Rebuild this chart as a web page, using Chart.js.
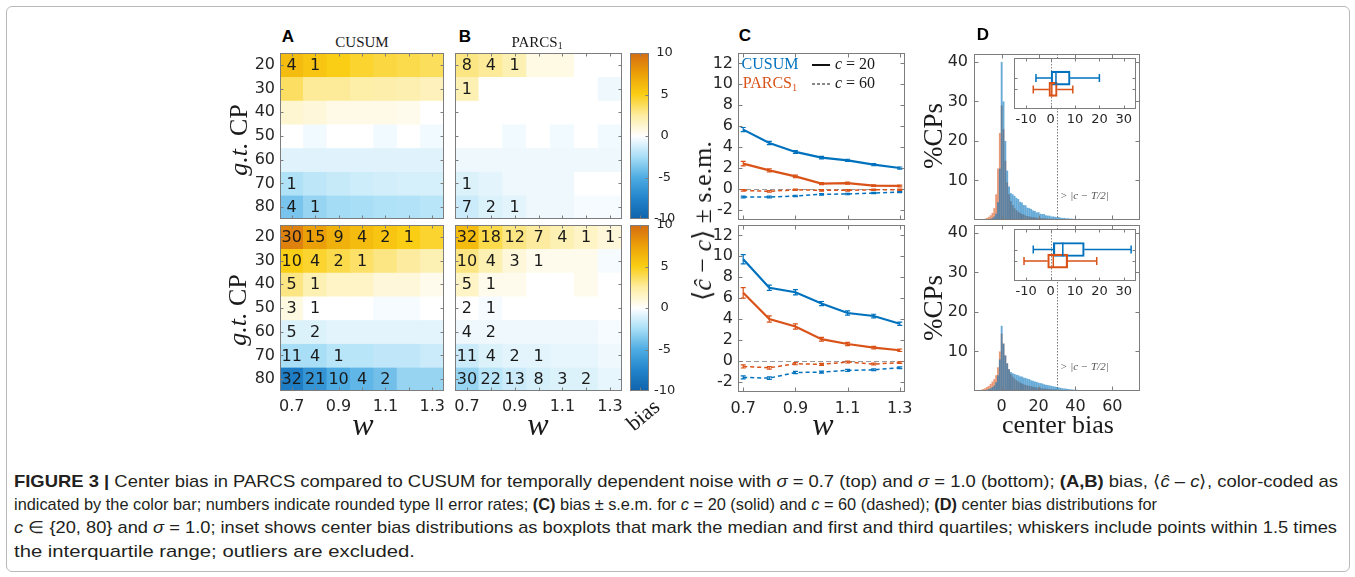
<!DOCTYPE html>
<html>
<head>
<meta charset="utf-8">
<title>Center bias in PARCS compared to CUSUM</title>
<script src="https://cdn.jsdelivr.net/npm/chart.js@4.4.1/dist/chart.umd.min.js"></script>
<style>
  html, body { margin: 0; padding: 0; background: #fff; }
  body { width: 1355px; height: 577px; position: relative; overflow: hidden; color: #262626; font-family: "DejaVu Sans", sans-serif; }
  .border { position: absolute; left: 6px; top: 6px; width: 1342px; height: 564px; border: 1px solid #b9b9b9; border-radius: 6px; }
  canvas { position: absolute; }
  .lbl { position: absolute; white-space: nowrap; line-height: 1; }
  .letter { font-family: "Liberation Sans", Arial, sans-serif; font-weight: bold; font-size: 17px; color: #000; }
  .cap { position: absolute; left: 14px; white-space: nowrap; line-height: 20px; font-size: 17px; color: #231f20;
         font-family: "Liberation Sans Narrow", "Liberation Sans", Arial, sans-serif; transform-origin: 0 50%; }
  .cap b { font-weight: bold; }
  sub { font-size: 65%; vertical-align: -0.25em; line-height: 0; }
</style>
</head>
<body>
<div class="border"></div>
<script>
// ---------- data ----------
const wLabels = ['0.7', '0.8', '0.9', '1.0', '1.1', '1.2', '1.3'];
const wValues = [0.7, 0.8, 0.9, 1.0, 1.1, 1.2, 1.3];
const cpRows = [20, 30, 40, 50, 60, 70, 80];
const biasTicks = [10, 5, 0, -5, -10];

// mean bias <c^ - c>, rows = g.t. CP 20..80, columns = w 0.7..1.3
const biasCusumS07 = [
  [6.0, 5.5, 5.0, 4.5, 4.2, 4.0, 3.7],
  [3.6, 2.6, 2.6, 2.3, 2.2, 2.1, 1.8],
  [1.2, 1.0, 0.6, 0.6, 0.6, 0.5, 0.0],
  [0.0, -0.4, 0.0, 0.0, -0.4, 0.0, -0.4],
  [-0.9, -0.9, -0.9, -0.9, -0.9, -0.9, -0.9],
  [-2.3, -1.9, -1.6, -1.4, -1.3, -1.2, -1.2],
  [-3.8, -3.0, -2.6, -2.5, -2.3, -2.2, -2.0]
];
const biasParcsS07 = [
  [3.0, 2.6, 2.0, 0.7, 0.7, 0.0, 0.0],
  [2.0, 0.0, 0.0, 0.0, 0.0, 0.0, -0.5],
  [0.0, 0.0, 0.0, 0.0, 0.0, 0.0, 0.0],
  [0.0, 0.0, -0.4, 0.0, -0.4, 0.0, -0.4],
  [-0.5, -0.5, -0.5, -0.5, -0.5, -0.5, -0.5],
  [-1.0, -0.8, -0.5, -0.5, -0.5, 0.0, 0.0],
  [-1.5, -1.0, -0.8, -0.5, -0.5, -0.3, -0.3]
];
const biasCusumS10 = [
  [9.0, 7.5, 6.6, 6.0, 5.5, 5.0, 4.5],
  [5.0, 4.5, 4.0, 3.5, 3.0, 2.5, 2.0],
  [3.0, 2.0, 1.5, 1.5, 1.0, 1.0, 0.5],
  [0.8, 0.0, 0.0, 0.0, -0.3, -0.3, 0.0],
  [-1.0, -1.0, -0.8, -0.8, -0.8, -0.8, -0.8],
  [-2.5, -2.5, -2.0, -2.0, -1.8, -1.8, -1.5],
  [-8.0, -6.5, -5.0, -4.5, -4.0, -3.0, -3.0]
];
const biasParcsS10 = [
  [6.0, 4.0, 3.0, 2.5, 2.0, 1.5, 1.0],
  [3.0, 2.0, 1.0, 0.5, 0.5, 0.5, -0.3],
  [1.5, 0.5, 0.5, 0.0, 0.0, 0.5, 0.0],
  [0.0, -0.3, 0.0, 0.0, 0.0, 0.0, 0.0],
  [-0.5, -0.5, -0.5, -0.5, -0.5, -0.5, -0.3],
  [-1.5, -1.0, -0.8, -0.8, -0.7, -0.7, -0.5],
  [-3.0, -2.0, -1.5, -1.2, -1.0, -1.0, -0.7]
];

// rounded type II error rates (%), 0 is left blank
const errCusumS07 = [
  [4, 1, 0, 0, 0, 0, 0], [0, 0, 0, 0, 0, 0, 0], [0, 0, 0, 0, 0, 0, 0], [0, 0, 0, 0, 0, 0, 0],
  [0, 0, 0, 0, 0, 0, 0], [1, 0, 0, 0, 0, 0, 0], [4, 1, 0, 0, 0, 0, 0]
];
const errParcsS07 = [
  [8, 4, 1, 0, 0, 0, 0], [1, 0, 0, 0, 0, 0, 0], [0, 0, 0, 0, 0, 0, 0], [0, 0, 0, 0, 0, 0, 0],
  [0, 0, 0, 0, 0, 0, 0], [1, 0, 0, 0, 0, 0, 0], [7, 2, 1, 0, 0, 0, 0]
];
const errCusumS10 = [
  [30, 15, 9, 4, 2, 1, 0], [10, 4, 2, 1, 0, 0, 0], [5, 1, 0, 0, 0, 0, 0], [3, 1, 0, 0, 0, 0, 0],
  [5, 2, 0, 0, 0, 0, 0], [11, 4, 1, 0, 0, 0, 0], [32, 21, 10, 4, 2, 0, 0]
];
const errParcsS10 = [
  [32, 18, 12, 7, 4, 1, 1], [10, 4, 3, 1, 0, 0, 0], [5, 1, 0, 0, 0, 0, 0], [2, 1, 0, 0, 0, 0, 0],
  [4, 2, 0, 0, 0, 0, 0], [11, 4, 2, 1, 0, 0, 0], [30, 22, 13, 8, 3, 2, 0]
];

// panel C: bias and s.e.m. against w, for c = 20 and c = 60
const c20CusumS07 = [5.66, 4.38, 3.52, 2.98, 2.72, 2.30, 1.98];
const c20CusumS07Sem = [0.20, 0.15, 0.13, 0.12, 0.10, 0.10, 0.10];
const c20ParcsS07 = [2.40, 1.76, 1.18, 0.48, 0.54, 0.29, 0.26];
const c20ParcsS07Sem = [0.22, 0.15, 0.12, 0.10, 0.10, 0.08, 0.08];
const c60CusumS07 = [-0.80, -0.80, -0.70, -0.54, -0.51, -0.42, -0.32];
const c60CusumS07Sem = [0.08, 0.08, 0.07, 0.07, 0.07, 0.06, 0.06];
const c60ParcsS07 = [-0.16, -0.26, -0.10, -0.16, -0.16, -0.10, -0.10];
const c60ParcsS07Sem = [0.08, 0.08, 0.07, 0.07, 0.07, 0.06, 0.06];

const c20CusumS10 = [9.72, 6.98, 6.56, 5.47, 4.57, 4.28, 3.54];
const c20CusumS10Sem = [0.45, 0.25, 0.25, 0.20, 0.20, 0.17, 0.15];
const c20ParcsS10 = [6.50, 3.99, 3.28, 2.06, 1.60, 1.25, 1.00];
const c20ParcsS10Sem = [0.50, 0.30, 0.25, 0.18, 0.15, 0.13, 0.12];
const c60CusumS10 = [-1.60, -1.67, -1.13, -1.10, -0.93, -0.87, -0.68];
const c60CusumS10Sem = [0.15, 0.12, 0.10, 0.10, 0.09, 0.08, 0.08];
const c60ParcsS10 = [-0.55, -0.68, -0.29, -0.35, -0.13, -0.32, -0.19];
const c60ParcsS10Sem = [0.15, 0.12, 0.10, 0.10, 0.09, 0.08, 0.08];

// panel D: center bias histograms (% of CPs), unit bins
const histBins = [
  -12, -11, -10, -9, -8, -7, -6, -5, -4, -3,
  -2, -1, 0, 1, 2, 3, 4, 5, 6, 7,
  8, 9, 10, 11, 12, 13, 14, 15, 16, 17,
  18, 19, 20, 21, 22, 23, 24, 25, 26, 27,
  28, 29, 30, 31, 32, 33, 34, 35, 36, 37,
  38, 39, 40, 41, 42, 43, 44, 45, 46, 47,
  48, 49, 50, 51, 52, 53, 54, 55, 56, 57
];
const histCusumS07 = [
  0, 0, 0, 0, 0.1, 0.2, 0.3, 0.5, 0.9, 1.6,
  4.5, 13, 40, 30, 20, 12.5, 8.5, 6.8, 6.5, 6.1,
  5.6, 5.3, 4.6, 4.4, 3.8, 3.7, 3.1, 3.0, 2.8, 2.4,
  2.3, 1.9, 2.0, 1.6, 1.5, 1.5, 1.2, 1.1, 1.1, 0.9,
  0.9, 0.8, 0.7, 0.75, 0.6, 0.5, 0.55, 0.4, 0.45, 0.35,
  0.35, 0.3, 0.3, 0.25, 0.3, 0.2, 0.2, 0.15, 0.2, 0.15,
  0.1, 0.15, 0.1, 0.1, 0.05, 0.1, 0.05, 0.05, 0, 0.05
];
const histParcsS07 = [
  0, 0, 0.1, 0.3, 0.5, 0.8, 1.2, 1.8, 3.0, 6.5,
  13, 22, 29, 23, 15, 9.5, 6.5, 4.8, 3.8, 3.0,
  2.5, 2.1, 1.8, 1.5, 1.4, 1.1, 1.0, 0.9, 0.8, 0.7,
  0.65, 0.6, 0.5, 0.5, 0.45, 0.4, 0.4, 0.35, 0.3, 0.3,
  0.3, 0.25, 0.25, 0.2, 0.2, 0.2, 0.15, 0.15, 0.15, 0.1,
  0.1, 0.1, 0.1, 0.1, 0.1, 0.05, 0.05, 0.05, 0.05, 0.05,
  0.05, 0, 0.05, 0, 0, 0, 0, 0, 0, 0
];
const histCusumS10 = [
  0, 0, 0.1, 0.2, 0.3, 0.5, 0.7, 1.0, 1.4, 2.2,
  4.0, 8.0, 16.5, 12, 9.0, 7.0, 5.5, 4.8, 4.5, 4.3,
  4.1, 4.0, 3.7, 3.7, 3.4, 3.3, 3.1, 3.0, 2.7, 2.6,
  2.4, 2.3, 2.1, 2.0, 1.9, 1.7, 1.6, 1.5, 1.4, 1.3,
  1.2, 1.1, 1.0, 0.9, 0.8, 0.7, 0.65, 0.6, 0.5, 0.45,
  0.4, 0.35, 0.3, 0.3, 0.25, 0.25, 0.2, 0.2, 0.15, 0.15,
  0.1, 0.1, 0.1, 0.1, 0.05, 0.05, 0.05, 0.05, 0.05, 0
];
const histParcsS10 = [
  0.2, 0.3, 0.5, 0.7, 1.0, 1.3, 1.8, 2.4, 3.0, 4.0,
  6.0, 10, 14.5, 12, 9.0, 7.0, 5.5, 4.3, 3.6, 3.1,
  2.7, 2.4, 2.1, 1.9, 1.7, 1.5, 1.4, 1.3, 1.2, 1.1,
  1.0, 0.9, 0.85, 0.8, 0.7, 0.65, 0.6, 0.55, 0.5, 0.45,
  0.4, 0.4, 0.35, 0.3, 0.3, 0.25, 0.25, 0.2, 0.2, 0.2,
  0.15, 0.15, 0.15, 0.1, 0.1, 0.1, 0.1, 0.1, 0.05, 0.05,
  0.05, 0.05, 0.05, 0.05, 0, 0, 0, 0, 0, 0
];
const halfSpan = 30;   // dotted marker at |c - T/2|

// inset boxplots: [lower whisker, Q1, median, Q3, upper whisker]
const boxCusumS07 = [-6.0, 0.2, 2.2, 8.0, 20.0];
const boxParcsS07 = [-7.1, -0.7, 0.5, 2.7, 9.1];
const boxCusumS10 = [-7.1, 1.1, 5.0, 13.8, 33.0];
const boxParcsS10 = [-10.9, -1.2, 1.1, 7.0, 18.9];

// ---------- styles ----------
const BLUE = '#0072bd';
const ORANGE = '#d95319';
const FRAME = '#7d7d7d';
const cmapStops = [
  [-10, [15, 98, 172]], [-7.5, [34, 132, 203]], [-5, [78, 172, 226]], [-2.5, [168, 222, 246]],
  [0, [255, 255, 255]], [2.5, [253, 236, 160]], [5, [250, 206, 20]], [7.5, [236, 160, 8]], [10, [212, 108, 18]]
];

function biasColor(v) {
  v = Math.max(-10, Math.min(10, v));
  for (let i = 1; i < cmapStops.length; i++) {
    const [v1, c1] = cmapStops[i];
    if (v <= v1) {
      const [v0, c0] = cmapStops[i - 1];
      const t = (v - v0) / (v1 - v0);
      return 'rgb(' + c0.map((c, k) => Math.round(c + t * (c1[k] - c))).join(',') + ')';
    }
  }
}

Chart.defaults.animation = false;
Chart.defaults.font.family = '"DejaVu Sans", sans-serif';
Chart.defaults.color = '#262626';
Chart.defaults.plugins.legend.display = false;
Chart.defaults.plugins.tooltip.enabled = false;

// ---------- plugins ----------
// axes box with short inward ticks, MATLAB style
const axisFrame = {
  id: 'axisFrame',
  beforeDatasetsDraw(chart, args, o) {
    if (!o.fill) return;
    const a = chart.chartArea, ctx = chart.ctx;
    ctx.save();
    ctx.fillStyle = o.fill;
    ctx.fillRect(a.left, a.top, a.right - a.left, a.bottom - a.top);
    ctx.restore();
  },
  afterDatasetsDraw(chart, args, o) {
    const {ctx, chartArea: a, scales} = chart;
    const L = Math.round(a.left) + 0.5, R = Math.round(a.right) - 0.5;
    const T = Math.round(a.top) + 0.5, B = Math.round(a.bottom) - 0.5;
    const len = o.tickLength || 0;
    ctx.save();
    ctx.strokeStyle = o.color || FRAME;
    ctx.lineWidth = 1;
    ctx.beginPath();
    if (len && scales.x) {
      scales.x.ticks.forEach(t => {
        const p = Math.round(scales.x.getPixelForValue(t.value)) + 0.5;
        if (p <= L + 1 || p >= R - 1) return;
        ctx.moveTo(p, B); ctx.lineTo(p, B - len);
        ctx.moveTo(p, T); ctx.lineTo(p, T + len);
      });
    }
    if (len && scales.y) {
      const sides = o.ySides || ['left', 'right'];
      scales.y.ticks.forEach(t => {
        const p = Math.round(scales.y.getPixelForValue(t.value)) + 0.5;
        if (p <= T + 1 || p >= B - 1) return;
        if (sides.includes('left')) { ctx.moveTo(L, p); ctx.lineTo(L + len, p); }
        if (sides.includes('right')) { ctx.moveTo(R, p); ctx.lineTo(R - len, p); }
      });
    }
    ctx.stroke();
    ctx.strokeRect(L, T, R - L, B - T);
    ctx.restore();
  }
};

// error rate printed in each heatmap cell
const cellText = {
  id: 'cellText',
  afterDatasetsDraw(chart) {
    const ctx = chart.ctx;
    ctx.save();
    ctx.font = '16px "DejaVu Sans", sans-serif';
    ctx.fillStyle = '#1a1a1a';
    ctx.textAlign = 'center';
    ctx.textBaseline = 'middle';
    chart.data.datasets.forEach((ds, i) => {
      if (!ds.errs) return;
      chart.getDatasetMeta(i).data.forEach((bar, j) => {
        const n = ds.errs[j];
        if (n > 0) ctx.fillText(String(n), bar.x, (bar.y + bar.base) / 2 + 1);
      });
    });
    ctx.restore();
  }
};

// +- s.e.m. bars on line series
const semBars = {
  id: 'semBars',
  afterDatasetsDraw(chart) {
    const {ctx, scales: {y}} = chart;
    chart.data.datasets.forEach((ds, i) => {
      if (!ds.sem) return;
      ctx.save();
      ctx.strokeStyle = ds.borderColor;
      ctx.lineWidth = 1.2;
      ctx.beginPath();
      chart.getDatasetMeta(i).data.forEach((pt, j) => {
        const v = ds.data[j].y, e = ds.sem[j];
        const y1 = y.getPixelForValue(v - e), y2 = y.getPixelForValue(v + e);
        ctx.moveTo(pt.x, y1); ctx.lineTo(pt.x, y2);
        ctx.moveTo(pt.x - 2.5, y1); ctx.lineTo(pt.x + 2.5, y1);
        ctx.moveTo(pt.x - 2.5, y2); ctx.lineTo(pt.x + 2.5, y2);
      });
      ctx.stroke();
      ctx.restore();
    });
  }
};

// dashed / dotted reference lines, with an optional note
const refLines = {
  id: 'refLines',
  beforeDatasetsDraw(chart, args, o) {
    const {ctx, chartArea: a, scales: {x, y}} = chart;
    ctx.save();
    ctx.strokeStyle = o.color || '#888';
    ctx.lineWidth = 1;
    ctx.setLineDash(o.dash || [2, 2]);
    ctx.beginPath();
    (o.x || []).forEach(v => {
      const p = Math.round(x.getPixelForValue(v)) + 0.5;
      ctx.moveTo(p, a.top); ctx.lineTo(p, a.bottom);
    });
    (o.y || []).forEach(v => {
      const p = Math.round(y.getPixelForValue(v)) + 0.5;
      ctx.moveTo(a.left, p); ctx.lineTo(a.right, p);
    });
    ctx.stroke();
    ctx.setLineDash([]);
    if (o.note) {
      ctx.font = 'italic 11px "Liberation Serif", serif';
      ctx.fillStyle = '#555';
      ctx.textBaseline = 'middle';
      ctx.fillText(o.note.text, x.getPixelForValue(o.note.x) + 3, y.getPixelForValue(o.note.y));
    }
    ctx.restore();
  }
};

// whiskers, caps and median for the inset boxes
const whiskers = {
  id: 'whiskers',
  afterDatasetsDraw(chart) {
    const {ctx, scales: {x, y}} = chart;
    chart.data.datasets.forEach(ds => {
      if (!ds.stats) return;
      ds.stats.forEach((s, k) => {
        const [lo, q1, med, q3, hi] = s.map(v => x.getPixelForValue(v));
        const yc = y.getPixelForValue(ds.data[k].y), half = ds.barThickness / 2, cap = 4;
        ctx.save();
        ctx.strokeStyle = ds.borderColor[k];
        ctx.lineWidth = 1.5;
        ctx.beginPath();
        ctx.moveTo(lo, yc); ctx.lineTo(q1, yc);
        ctx.moveTo(q3, yc); ctx.lineTo(hi, yc);
        ctx.moveTo(lo, yc - cap); ctx.lineTo(lo, yc + cap);
        ctx.moveTo(hi, yc - cap); ctx.lineTo(hi, yc + cap);
        ctx.moveTo(med, yc - half); ctx.lineTo(med, yc + half);
        ctx.stroke();
        ctx.restore();
      });
    });
  }
};

// ---------- layout helpers ----------
function mount(plot, pad) {
  const c = document.createElement('canvas');
  const w = plot.r - plot.l + pad.l + pad.r, h = plot.b - plot.t + pad.t + pad.b;
  c.width = w; c.height = h;
  c.style.left = (plot.l - pad.l) + 'px';
  c.style.top = (plot.t - pad.t) + 'px';
  c.style.width = w + 'px';
  c.style.height = h + 'px';
  document.body.appendChild(c);
  return c;
}
const fitW = w => s => { s.width = w; s.paddingTop = 0; s.paddingBottom = 0; };
const fitH = h => s => { s.height = h; s.paddingLeft = 0; s.paddingRight = 0; };
const fixTicks = list => s => { s.ticks = list.map(v => ({value: v})); };
const noGrid = {display: false, drawTicks: false};
const tickFont = size => ({autoSkip: false, maxRotation: 0, minRotation: 0, font: {size}});

function heatmap(plot, bias, errs, showY, showX) {
  const pad = {l: showY ? 45 : 2, t: 2, r: 4, b: showX ? 28 : 2};
  return new Chart(mount(plot, pad), {
    type: 'bar',
    data: {
      labels: wLabels,
      datasets: cpRows.map((cp, r) => ({
        data: wLabels.map(() => [cp - 5, cp + 5]),
        backgroundColor: bias[r].map(biasColor),
        errs: errs[r],
        grouped: false, barPercentage: 1, categoryPercentage: 1, borderWidth: 0
      }))
    },
    options: {
      responsive: false,
      layout: {padding: {left: showY ? 0 : pad.l, top: pad.t, right: pad.r, bottom: showX ? 0 : pad.b}},
      scales: {
        x: {
          display: showX, grid: noGrid, border: {display: false},
          ticks: {...tickFont(16), padding: 6, callback: (v, i) => (i % 2 ? '' : wLabels[i])},
          afterFit: showX ? fitH(pad.b) : undefined
        },
        y: {
          display: showY, reverse: true, min: 15, max: 85, grid: noGrid, border: {display: false},
          ticks: {...tickFont(16), padding: 5},
          afterBuildTicks: fixTicks(cpRows),
          afterFit: showY ? fitW(pad.l) : undefined
        }
      },
      plugins: {axisFrame: {tickLength: 3}}
    },
    plugins: [axisFrame, cellText]
  });
}

function colorbar(plot) {
  const pad = {l: 2, t: 9, r: 36, b: 9};
  return new Chart(mount(plot, pad), {
    type: 'bar',
    data: {
      labels: [''],
      datasets: [{
        data: [[-10, 10]],
        barPercentage: 1, categoryPercentage: 1, borderWidth: 0,
        backgroundColor: ctx => {
          const {chartArea: a, scales: {y}} = ctx.chart;
          if (!a) return null;
          const g = ctx.chart.ctx.createLinearGradient(0, a.bottom, 0, a.top);
          cmapStops.forEach(([v, c]) => g.addColorStop((a.bottom - y.getPixelForValue(v)) / (a.bottom - a.top), 'rgb(' + c.join(',') + ')'));
          return g;
        }
      }]
    },
    options: {
      responsive: false,
      layout: {padding: {left: pad.l, top: pad.t, right: 0, bottom: pad.b}},
      scales: {
        x: {display: false},
        y: {
          position: 'right', min: -10, max: 10, grid: noGrid, border: {display: false},
          ticks: {...tickFont(13), padding: 5, crossAlign: 'center'},
          afterBuildTicks: fixTicks(biasTicks),
          afterFit: fitW(pad.r)
        }
      },
      plugins: {axisFrame: {tickLength: 3, ySides: ['right']}}
    },
    plugins: [axisFrame]
  });
}

function biasLines(plot, series, showX) {
  const pad = {l: 40, t: 8, r: 14, b: showX ? 28 : 2};
  return new Chart(mount(plot, pad), {
    type: 'line',
    data: {
      datasets: series.map(s => ({
        data: wValues.map((w, j) => ({x: w, y: s.mean[j]})),
        sem: s.sem,
        borderColor: s.color,
        borderWidth: s.dashed ? 1.5 : 2.2,
        borderDash: s.dashed ? [4, 3] : [],
        pointRadius: 0, tension: 0
      }))
    },
    options: {
      responsive: false,
      layout: {padding: {left: 0, top: pad.t, right: pad.r, bottom: showX ? 0 : pad.b}},
      scales: {
        x: {
          type: 'linear', display: showX, min: 0.68, max: 1.32, grid: noGrid, border: {display: false},
          ticks: {...tickFont(16), padding: 7, callback: v => v.toFixed(1)},
          afterBuildTicks: fixTicks([0.7, 0.9, 1.1, 1.3]),
          afterFit: showX ? fitH(pad.b) : undefined
        },
        y: {
          min: -3, max: 13, grid: noGrid, border: {display: false},
          ticks: {...tickFont(16), padding: 5},
          afterBuildTicks: fixTicks([-2, 0, 2, 4, 6, 8, 10, 12]),
          afterFit: fitW(pad.l)
        }
      },
      plugins: {
        axisFrame: {tickLength: 4},
        refLines: {y: [0], color: '#9a9a9a', dash: [5, 3]}
      }
    },
    plugins: [axisFrame, refLines, semBars]
  });
}

function histogram(plot, cusum, parcs, showX) {
  const pad = {l: 40, t: 8, r: 4, b: showX ? 28 : 2};
  const bars = (vals, color) => ({
    data: histBins.map((b, i) => ({x: b, y: vals[i]})),
    backgroundColor: color,
    grouped: false, barPercentage: 1, categoryPercentage: 1, borderWidth: 0, inflateAmount: 0
  });
  return new Chart(mount(plot, pad), {
    type: 'bar',
    data: {datasets: [bars(cusum, 'rgba(0,114,189,0.6)'), bars(parcs, 'rgba(217,83,25,0.6)')]},
    options: {
      responsive: false,
      layout: {padding: {left: 0, top: pad.t, right: pad.r, bottom: showX ? 0 : pad.b}},
      scales: {
        x: {
          type: 'linear', display: showX, offset: false, min: -15, max: 75, grid: noGrid, border: {display: false},
          ticks: {...tickFont(16), padding: 6},
          afterBuildTicks: fixTicks([0, 20, 40, 60]),
          afterFit: showX ? fitH(pad.b) : undefined
        },
        y: {
          min: 0, max: 42, grid: noGrid, border: {display: false},
          ticks: {...tickFont(16), padding: 6},
          afterBuildTicks: fixTicks([10, 20, 30, 40]),
          afterFit: fitW(pad.l)
        }
      },
      plugins: {
        axisFrame: {tickLength: 4},
        refLines: {x: [halfSpan], color: '#777', dash: [1.5, 1.5], note: {text: '> |c \u2212 T/2|', x: halfSpan, y: 6}}
      }
    },
    plugins: [axisFrame, refLines]
  });
}

function inset(plot, cusumStats, parcsStats) {
  const pad = {l: 4, t: 2, r: 4, b: 18};
  return new Chart(mount(plot, pad), {
    type: 'bar',
    data: {
      datasets: [{
        indexAxis: 'y',
        data: [{y: 1, x: [cusumStats[1], cusumStats[3]]}, {y: 2, x: [parcsStats[1], parcsStats[3]]}],
        stats: [cusumStats, parcsStats],
        borderColor: [BLUE, ORANGE],
        backgroundColor: 'rgba(0,0,0,0)',
        borderWidth: 1.5, borderSkipped: false, barThickness: 14
      }]
    },
    options: {
      responsive: false,
      indexAxis: 'y',
      layout: {padding: {left: pad.l, top: pad.t, right: pad.r, bottom: 0}},
      scales: {
        x: {
          type: 'linear', min: -15, max: 35, grid: noGrid, border: {display: false},
          ticks: {...tickFont(13), padding: 3},
          afterBuildTicks: fixTicks([-10, 0, 10, 20, 30]),
          afterFit: fitH(pad.b)
        },
        y: {
          type: 'linear', display: false, reverse: true, min: 0.35, max: 2.6,
          afterBuildTicks: fixTicks([1, 2])
        }
      },
      plugins: {
        axisFrame: {tickLength: 3, fill: '#fff'},
        refLines: {x: [0], color: '#888', dash: [1.5, 1.5]}
      }
    },
    plugins: [axisFrame, refLines, whiskers]
  });
}

// ---------- panels ----------
heatmap({l: 280, t: 53, r: 444, b: 219}, biasCusumS07, errCusumS07, true, false);
heatmap({l: 455, t: 53, r: 622, b: 219}, biasParcsS07, errParcsS07, false, false);
colorbar({l: 630, t: 53, r: 649, b: 219});
heatmap({l: 280, t: 225, r: 444, b: 391}, biasCusumS10, errCusumS10, true, true);
heatmap({l: 455, t: 225, r: 622, b: 391}, biasParcsS10, errParcsS10, false, true);
colorbar({l: 630, t: 225, r: 649, b: 391});

biasLines({l: 738, t: 53, r: 905, b: 220}, [
  {mean: c60CusumS07, sem: c60CusumS07Sem, color: BLUE, dashed: true},
  {mean: c60ParcsS07, sem: c60ParcsS07Sem, color: ORANGE, dashed: true},
  {mean: c20CusumS07, sem: c20CusumS07Sem, color: BLUE},
  {mean: c20ParcsS07, sem: c20ParcsS07Sem, color: ORANGE}
], false);
biasLines({l: 738, t: 225, r: 905, b: 392}, [
  {mean: c60CusumS10, sem: c60CusumS10Sem, color: BLUE, dashed: true},
  {mean: c60ParcsS10, sem: c60ParcsS10Sem, color: ORANGE, dashed: true},
  {mean: c20CusumS10, sem: c20CusumS10Sem, color: BLUE},
  {mean: c20ParcsS10, sem: c20ParcsS10Sem, color: ORANGE}
], true);

histogram({l: 974, t: 54, r: 1140, b: 220}, histCusumS07, histParcsS07, false);
histogram({l: 974, t: 225, r: 1140, b: 391}, histCusumS10, histParcsS10, true);
inset({l: 1014, t: 58, r: 1136, b: 109}, boxCusumS07, boxParcsS07);
inset({l: 1014, t: 229, r: 1136, b: 281}, boxCusumS10, boxParcsS10);

// ---------- text ----------
function label(html, cx, cy, css, rot) {
  const d = document.createElement('div');
  d.className = 'lbl';
  d.innerHTML = html;
  d.style.cssText += css || '';
  d.style.left = cx + 'px';
  d.style.top = cy + 'px';
  d.style.transform = 'translate(-50%,-50%) rotate(' + (rot || 0) + 'deg)';
  document.body.appendChild(d);
  return d;
}
const serif = 'font-family:"Liberation Serif","DejaVu Serif",serif;color:#1a1a1a;';

label('A', 288, 36).className += ' letter';
label('B', 465, 36).className += ' letter';
label('C', 745, 35).className += ' letter';
label('D', 983, 34).className += ' letter';

label('CUSUM', 362, 42, serif + 'font-size:15px;');
label('PARCS<sub>1</sub>', 537, 42, serif + 'font-size:15px;');

label('<i>g.t.</i> CP', 239, 140, serif + 'font-size:26px;', -90);
label('<i>g.t.</i> CP', 238, 310, serif + 'font-size:26px;', -90);
label('<i>w</i>', 363, 424, serif + 'font-size:32px;');
label('<i>w</i>', 538, 424, serif + 'font-size:32px;');
label('<i>w</i>', 823, 424, serif + 'font-size:32px;');
label('bias', 643, 415, serif + 'font-size:22px;', -40);
label('\u27e8<i>\u0109</i> \u2212 <i>c</i>\u27e9 \u00b1 s.e.m.', 703, 221, serif + 'font-size:26px;', -90);
label('%CPs', 933, 136, serif + 'font-size:27px;', -90);
label('%CPs', 933, 308, serif + 'font-size:27px;', -90);
label('center bias', 1058, 425, serif + 'font-size:26px;');

// legend of panel C
label('CUSUM', 770, 64, serif + 'font-size:16px;color:' + BLUE + ';');
label('PARCS<sub>1</sub>', 770, 83, serif + 'font-size:16px;color:' + ORANGE + ';');
label('', 821, 65, 'width:18px;height:0;border-top:2px solid #111;');
label('', 821, 84, 'width:18px;height:0;border-top:1.5px dashed #111;');
label('<i>c</i> = 20', 855, 64, serif + 'font-size:16px;');
label('<i>c</i> = 60', 855, 83, serif + 'font-size:16px;');

// caption, each line stretched to its set width
const captionLines = [
  ['<b>FIGURE 3 |</b> Center bias in PARCS compared to CUSUM for temporally dependent noise with <i>\u03c3</i> = 0.7 (top) and <i>\u03c3</i> = 1.0 (bottom); <b>(A,B)</b> bias, \u27e8<i>\u0109</i> \u2013 <i>c</i>\u27e9, color-coded as', 482, 1324],
  ['indicated by the color bar; numbers indicate rounded type II error rates; <b>(C)</b> bias \u00b1 s.e.m. for <i>c</i> = 20 (solid) and <i>c</i> = 60 (dashed); <b>(D)</b> center bias distributions for', 505, 1143],
  ['<i>c</i> \u2208 {20, 80} and <i>\u03c3</i> = 1.0; inset shows center bias distributions as boxplots that mark the median and first and third quartiles; whiskers include points within 1.5 times', 528, 1323],
  ['the interquartile range; outliers are excluded.', 552, 401]
];
captionLines.forEach(([html, cy, width]) => {
  const d = document.createElement('div');
  d.className = 'cap';
  d.innerHTML = html;
  d.style.top = (cy - 10) + 'px';
  document.body.appendChild(d);
  const natural = d.getBoundingClientRect().width;
  d.style.transform = 'scaleX(' + (width / natural).toFixed(4) + ')';
});
</script>
</body>
</html>
